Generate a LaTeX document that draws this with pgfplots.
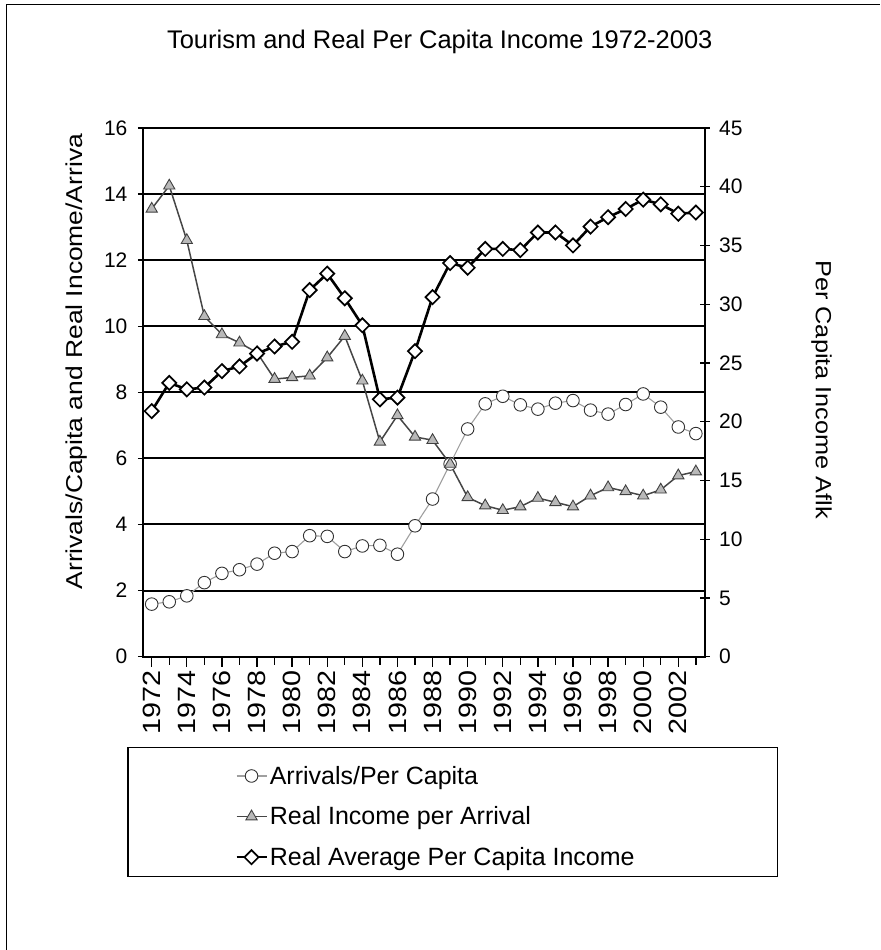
\documentclass[border=0pt]{standalone}
\usepackage{pgfplots}
\pgfplotsset{compat=1.18}
\usepackage{pgfplotstable}
\usepackage{fontspec}
\setmainfont{Liberation Sans}
\newfontfamily\tallfont{Liberation Sans}[FakeStretch=1.15]
\pgfplotstableread{
year arr inc pci
1972 1.59 13.55 20.9
1973 1.66 14.25 23.3
1974 1.84 12.6 22.75
1975 2.24 10.3 22.9
1976 2.52 9.75 24.3
1977 2.63 9.5 24.7
1978 2.80 9.2 25.8
1979 3.13 8.4 26.4
1980 3.18 8.45 26.8
1981 3.66 8.5 31.2
1982 3.64 9.05 32.6
1983 3.18 9.7 30.5
1984 3.35 8.35 28.2
1985 3.37 6.5 21.9
1986 3.10 7.3 22.05
1987 3.96 6.65 26.0
1988 4.77 6.55 30.6
1989 5.83 5.83 33.5
1990 6.89 4.82 33.1
1991 7.65 4.57 34.7
1992 7.88 4.43 34.7
1993 7.62 4.54 34.6
1994 7.49 4.8 36.1
1995 7.67 4.67 36.1
1996 7.75 4.54 35.0
1997 7.46 4.87 36.6
1998 7.34 5.12 37.4
1999 7.63 5.0 38.1
2000 7.95 4.87 38.9
2001 7.55 5.05 38.5
2002 6.95 5.48 37.7
2003 6.75 5.6 37.8
}\datatable
\begin{document}
\begin{tikzpicture}[x=1pt,y=1pt]
\path (0,0) rectangle (880,950);
\draw[line width=1pt] (7,0) -- (7,945) -- (880,945);
\node[font=\fontsize{25.5}{28}\selectfont] at (440,908) {Tourism and Real Per Capita Income 1972-2003};
\pgfplotsset{
  every axis/.append style={
    width=562pt, height=529pt, scale only axis,
    at={(143pt,293pt)}, anchor=south west,
    xmin=1971.5, xmax=2003.5,
    tick label style={font=\fontsize{21}{24}\selectfont},
    label style={font=\tallfont\fontsize{22}{26}\selectfont},
    /pgf/number format/assume math mode=true,
    axis line style={line width=1.8pt},
  },
  legend image code/.code={
    \draw[#1, mark repeat=2, mark phase=2] plot coordinates {(0pt,0pt) (15pt,0pt) (30pt,0pt)};
  },
}
\begin{axis}[
  ymin=0, ymax=16,
  ytick={0,2,...,16},
  ytick pos=left,
  ytick align=center,
  major tick length=10pt,
  xtick={1972,1974,...,2002},
  minor xtick={1973,1975,...,2003},
  xtick pos=bottom,
  xtick align=outside,
  minor tick length=8pt,
  y tick label style={xshift=-7pt},
  x tick label style={rotate=90, anchor=east, font=\tallfont\fontsize{25}{27}\selectfont, /pgf/number format/1000 sep={}},
  ymajorgrids,
  grid style={black, line width=2pt},
  tick style={black, line width=1.3pt},
  ylabel={Arrivals/Capita and Real Income/Arriva},
  y label style={at={(axis description cs:-0.119,0.558)}, anchor=center, rotate=0, font=\tallfont\fontsize{23}{26}\selectfont},
  legend style={draw=none, fill=none, at={(axis description cs:0.164,-0.203)}, anchor=north west,
    font=\fontsize{25}{29}\selectfont, row sep=17pt, inner sep=0pt,
    cells={anchor=west}},
  legend cell align=left,
]
\addplot[gray!75, line width=1.1pt, mark=*, mark size=6.3pt, mark options={fill=white, draw=black!80, line width=0.9pt, solid}] table[x=year, y=arr] {\datatable};
\addlegendentry{Arrivals/Per Capita}
\addplot[gray!55!black, line width=1.5pt, mark=triangle*, mark size=6.5pt, mark options={fill=gray!55, draw=black!75, line width=0.9pt, solid}] table[x=year, y=inc] {\datatable};
\addlegendentry{Real Income per Arrival}
\addlegendimage{black, line width=2.6pt, mark=square*, mark size=5pt, mark options={fill=white, draw=black, line width=1.7pt, rotate=45}}
\addlegendentry{Real Average Per Capita Income}
\end{axis}
\begin{axis}[
  ymin=0, ymax=45,
  ytick={0,5,...,45},
  axis x line=none,
  axis y line*=right,
  ytick align=center,
  major tick length=10pt,
  y tick label style={xshift=6pt},
  tick style={black, line width=1.3pt},
  ylabel={Per Capita Income Aflk},
  y label style={at={(axis description cs:1.208,0.505)}, anchor=center, rotate=180},
]
\addplot[black, line width=2.6pt, mark=square*, mark size=5pt, mark options={fill=white, draw=black, line width=1.7pt, rotate=45}] table[x=year, y=pci] {\datatable};
\end{axis}
\draw[line width=1.5pt] (128,202) rectangle (778,73);
\end{tikzpicture}
\end{document}
